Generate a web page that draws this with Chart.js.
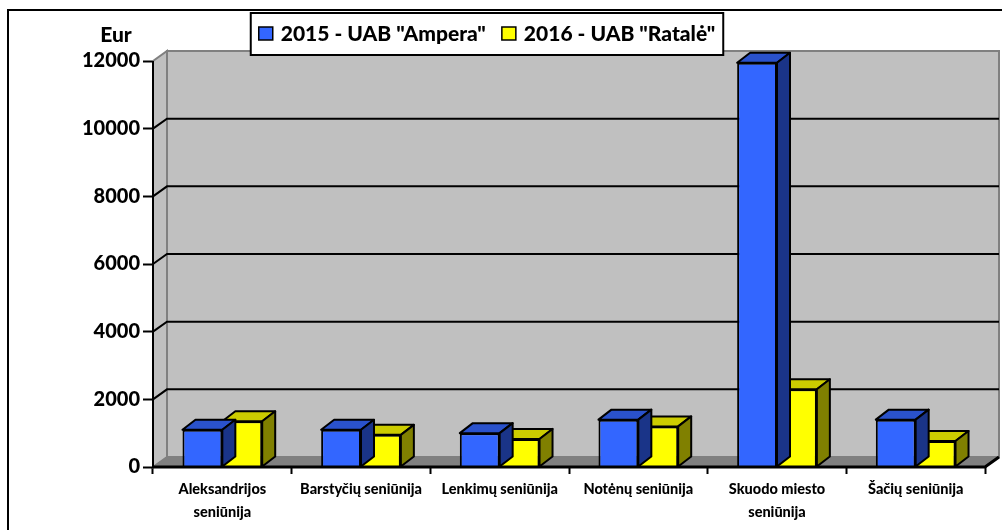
<!DOCTYPE html>
<html>
<head>
<meta charset="utf-8">
<script src="https://cdn.jsdelivr.net/npm/chart.js@4.4.1/dist/chart.umd.min.js"></script>
<style>
  html, body { margin: 0; padding: 0; background: #fff; }
  #wrap { width: 1002px; height: 530px; position: relative; }
</style>
</head>
<body>
<div id="wrap"><canvas id="seniunijuChart" width="1002" height="530"></canvas></div>
<script>
// Duomenys
const categories = [['Aleksandrijos', 'seniūnija'], 'Barstyčių seniūnija', 'Lenkimų seniūnija', 'Notėnų seniūnija', ['Skuodo miesto', 'seniūnija'], 'Šačių seniūnija'];
const ampera2015 = [1100, 1100, 1000, 1400, 11950, 1400];
const ratale2016 = [1350, 950, 830, 1200, 2300, 770];
const seriesLabels = ['2015 - UAB "Ampera"', '2016 - UAB "Ratalė"'];
const yMin = 0, yMax = 12000, yStep = 2000;
const yUnit = 'Eur';

const FONT = 'Lato, "Open Sans", sans-serif';
const W = '900';
const frontColors = ['#3366FF', '#FFFF00'];
const topColors = ['#2A52CC', '#CCCC00'];
const sideColors = ['#1A3488', '#808000'];

// gylis 3D efektui
const WALL_DX = 14, WALL_DY = -10;
const BAR_DX = 13, BAR_DY = -10;

function poly(ctx, pts, fill, stroke, lw) {
    ctx.beginPath();
    ctx.moveTo(pts[0][0], pts[0][1]);
    for (let i = 1; i < pts.length; i++) ctx.lineTo(pts[i][0], pts[i][1]);
    ctx.closePath();
    if (fill) { ctx.fillStyle = fill; ctx.fill(); }
    if (stroke) { ctx.strokeStyle = stroke; ctx.lineWidth = lw || 2; ctx.stroke(); }
}

const threeD = {
    id: 'threeD',
    beforeDraw(chart) {
        const ctx = chart.ctx;
        ctx.save();
        ctx.fillStyle = '#fff';
        ctx.fillRect(0, 0, chart.width, chart.height);
        // išorinis rėmelis
        ctx.strokeStyle = '#000';
        ctx.lineWidth = 2;
        ctx.beginPath();
        ctx.moveTo(8, chart.height + 2);
        ctx.lineTo(8, 10);
        ctx.lineTo(chart.width + 2, 10);
        ctx.stroke();
        ctx.restore();
    },
    beforeDatasetsDraw(chart) {
        const ctx = chart.ctx;
        const { left, right, top, bottom } = chart.chartArea;
        const y = chart.scales.y;
        ctx.save();
        ctx.lineJoin = 'miter';
        // galinė siena
        poly(ctx, [[left + WALL_DX, top + WALL_DY], [right + WALL_DX, top + WALL_DY], [right + WALL_DX, bottom + WALL_DY], [left + WALL_DX, bottom + WALL_DY]], '#C0C0C0', '#808080', 2);
        // kairė siena
        poly(ctx, [[left, top], [left + WALL_DX, top + WALL_DY], [left + WALL_DX, bottom + WALL_DY], [left, bottom]], '#C0C0C0', '#808080', 2);
        // grindys
        poly(ctx, [[left, bottom], [left + WALL_DX, bottom + WALL_DY], [right + WALL_DX, bottom + WALL_DY], [right, bottom]], '#808080', '#808080', 1);
        // tinklelio linijos
        ctx.strokeStyle = '#000';
        ctx.lineWidth = 2;
        for (let v = yMin + yStep; v < yMax; v += yStep) {
            const py = y.getPixelForValue(v);
            ctx.beginPath();
            ctx.moveTo(left, py);
            ctx.lineTo(left + WALL_DX, py + WALL_DY);
            ctx.lineTo(right + WALL_DX, py + WALL_DY);
            ctx.stroke();
        }
        ctx.restore();
    },
    beforeDatasetDraw(chart, args) {
        const ctx = chart.ctx;
        const i = args.index;
        ctx.save();
        ctx.lineJoin = 'round';
        args.meta.data.forEach(bar => {
            const p = bar.getProps(['x', 'y', 'base', 'width'], true);
            const l = p.x - p.width / 2, r = p.x + p.width / 2;
            poly(ctx, [[l, p.y], [l + BAR_DX, p.y + BAR_DY], [r + BAR_DX, p.y + BAR_DY], [r, p.y]], topColors[i], '#000', 2);
            poly(ctx, [[r, p.y], [r + BAR_DX, p.y + BAR_DY], [r + BAR_DX, p.base + BAR_DY], [r, p.base]], sideColors[i], '#000', 2);
        });
        ctx.restore();
    },
    afterDatasetsDraw(chart) {
        const ctx = chart.ctx;
        const { left, right, top, bottom } = chart.chartArea;
        ctx.save();
        ctx.strokeStyle = '#000';
        ctx.lineWidth = 2;
        ctx.beginPath();
        ctx.moveTo(left, top);
        ctx.lineTo(left, bottom);
        ctx.stroke();
        ctx.lineWidth = 3;
        ctx.beginPath();
        ctx.moveTo(left - 1, bottom);
        ctx.lineTo(right, bottom);
        ctx.lineTo(right + WALL_DX, bottom + WALL_DY);
        ctx.stroke();
        ctx.restore();
    },
    afterDraw(chart) {
        const ctx = chart.ctx;
        ctx.save();
        // "Eur" užrašas
        ctx.font = W + ' 21px ' + FONT;
        ctx.fillStyle = '#000';
        ctx.textAlign = 'center';
        ctx.textBaseline = 'middle';
        ctx.fillText(yUnit, 116, 35);

        // legenda
        ctx.font = W + ' 21px ' + FONT;
        ctx.textAlign = 'left';
        const pad = 8, sw = 14, gap = 8, itemGap = 16;
        const widths = seriesLabels.map(t => ctx.measureText(t).width);
        let total = pad * 2 + widths.reduce((a, w) => a + sw + gap + w, 0) + itemGap * (seriesLabels.length - 1);
        const bx = 487 - total / 2, by = 13, bh = 42;
        ctx.fillStyle = '#fff';
        ctx.fillRect(bx, by, total, bh);
        ctx.strokeStyle = '#000';
        ctx.lineWidth = 2;
        ctx.strokeRect(bx, by, total, bh);
        let cx = bx + pad;
        seriesLabels.forEach((t, k) => {
            ctx.fillStyle = frontColors[k];
            ctx.fillRect(cx, by + 14, sw, 13);
            ctx.lineWidth = 1.5;
            ctx.strokeRect(cx, by + 14, sw, 13);
            ctx.fillStyle = '#000';
            ctx.fillText(t, cx + sw + gap, by + 21);
            cx += sw + gap + widths[k] + itemGap;
        });
        ctx.restore();
    }
};

new Chart(document.getElementById('seniunijuChart'), {
    type: 'bar',
    data: {
        labels: categories,
        datasets: [
            { label: seriesLabels[0], data: ampera2015, backgroundColor: frontColors[0], borderColor: '#000', borderWidth: 2 },
            { label: seriesLabels[1], data: ratale2016, backgroundColor: frontColors[1], borderColor: '#000', borderWidth: 2 }
        ]
    },
    options: {
        responsive: false,
        animation: false,
        layout: { padding: { left: 0, top: 61, right: 17, bottom: 0 } },
        plugins: { legend: { display: false }, tooltip: { enabled: false } },
        datasets: { bar: { categoryPercentage: 0.575, barPercentage: 1.0 } },
        scales: {
            x: {
                grid: { offset: true, drawOnChartArea: false, drawTicks: true, tickLength: 7, tickColor: '#000', tickWidth: 2 },
                border: { display: false },
                ticks: { color: '#000', font: { family: FONT, size: 14.5, weight: W, lineHeight: 1.6 }, padding: 4, maxRotation: 0, autoSkip: false },
                afterFit: scale => { scale.height = 63; }
            },
            y: {
                min: yMin, max: yMax,
                grid: { drawOnChartArea: false, drawTicks: true, tickLength: 10, tickColor: '#000', tickWidth: 2 },
                border: { display: false },
                ticks: { stepSize: yStep, color: '#000', font: { family: FONT, size: 20, weight: W }, padding: 3, callback: v => String(v) },
                afterFit: scale => { scale.width = 153; }
            }
        }
    },
    plugins: [threeD]
});
</script>
</body>
</html>
